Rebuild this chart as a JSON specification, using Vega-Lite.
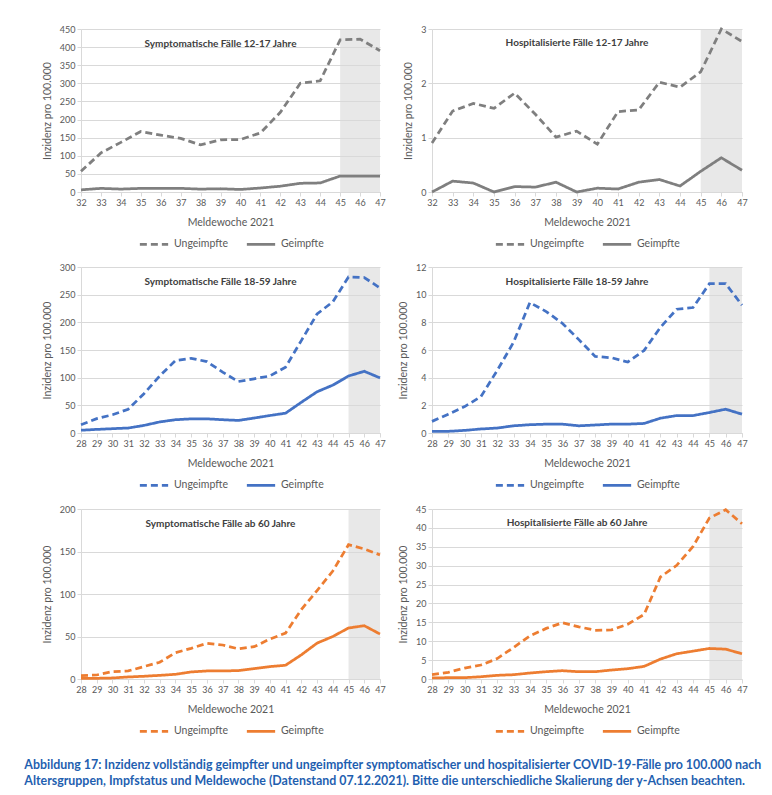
{
  "$schema": "https://vega.github.io/schema/vega-lite/v6.json",
  "padding": {"left": 24, "top": 23, "right": 5, "bottom": 5},
  "background": "white",
  "datasets": {
    "d": [
      {"panel":"S12","woche":32,"Ungeimpfte":57,"Geimpfte":6},
      {"panel":"S12","woche":33,"Ungeimpfte":108,"Geimpfte":10},
      {"panel":"S12","woche":34,"Ungeimpfte":137,"Geimpfte":8},
      {"panel":"S12","woche":35,"Ungeimpfte":167,"Geimpfte":10},
      {"panel":"S12","woche":36,"Ungeimpfte":157,"Geimpfte":10},
      {"panel":"S12","woche":37,"Ungeimpfte":148,"Geimpfte":10},
      {"panel":"S12","woche":38,"Ungeimpfte":130,"Geimpfte":8},
      {"panel":"S12","woche":39,"Ungeimpfte":144,"Geimpfte":9},
      {"panel":"S12","woche":40,"Ungeimpfte":145,"Geimpfte":7},
      {"panel":"S12","woche":41,"Ungeimpfte":163,"Geimpfte":11},
      {"panel":"S12","woche":42,"Ungeimpfte":220,"Geimpfte":16},
      {"panel":"S12","woche":43,"Ungeimpfte":300,"Geimpfte":24},
      {"panel":"S12","woche":44,"Ungeimpfte":307,"Geimpfte":25},
      {"panel":"S12","woche":45,"Ungeimpfte":420,"Geimpfte":44},
      {"panel":"S12","woche":46,"Ungeimpfte":422,"Geimpfte":44},
      {"panel":"S12","woche":47,"Ungeimpfte":390,"Geimpfte":44},
      {"panel":"H12","woche":32,"Ungeimpfte":0.9,"Geimpfte":0},
      {"panel":"H12","woche":33,"Ungeimpfte":1.49,"Geimpfte":0.2},
      {"panel":"H12","woche":34,"Ungeimpfte":1.63,"Geimpfte":0.165},
      {"panel":"H12","woche":35,"Ungeimpfte":1.54,"Geimpfte":0},
      {"panel":"H12","woche":36,"Ungeimpfte":1.82,"Geimpfte":0.1},
      {"panel":"H12","woche":37,"Ungeimpfte":1.43,"Geimpfte":0.09},
      {"panel":"H12","woche":38,"Ungeimpfte":1.01,"Geimpfte":0.18},
      {"panel":"H12","woche":39,"Ungeimpfte":1.12,"Geimpfte":0},
      {"panel":"H12","woche":40,"Ungeimpfte":0.88,"Geimpfte":0.07},
      {"panel":"H12","woche":41,"Ungeimpfte":1.48,"Geimpfte":0.055},
      {"panel":"H12","woche":42,"Ungeimpfte":1.51,"Geimpfte":0.18},
      {"panel":"H12","woche":43,"Ungeimpfte":2.02,"Geimpfte":0.23},
      {"panel":"H12","woche":44,"Ungeimpfte":1.93,"Geimpfte":0.11},
      {"panel":"H12","woche":45,"Ungeimpfte":2.21,"Geimpfte":0.38},
      {"panel":"H12","woche":46,"Ungeimpfte":3.0,"Geimpfte":0.63},
      {"panel":"H12","woche":47,"Ungeimpfte":2.77,"Geimpfte":0.4},
      {"panel":"S18","woche":28,"Ungeimpfte":15,"Geimpfte":5},
      {"panel":"S18","woche":29,"Ungeimpfte":26,"Geimpfte":6.5},
      {"panel":"S18","woche":30,"Ungeimpfte":33,"Geimpfte":7.8},
      {"panel":"S18","woche":31,"Ungeimpfte":43,"Geimpfte":9},
      {"panel":"S18","woche":32,"Ungeimpfte":71,"Geimpfte":13.7},
      {"panel":"S18","woche":33,"Ungeimpfte":103,"Geimpfte":20},
      {"panel":"S18","woche":34,"Ungeimpfte":131,"Geimpfte":24},
      {"panel":"S18","woche":35,"Ungeimpfte":135,"Geimpfte":25.6},
      {"panel":"S18","woche":36,"Ungeimpfte":129,"Geimpfte":25.6},
      {"panel":"S18","woche":37,"Ungeimpfte":110,"Geimpfte":24},
      {"panel":"S18","woche":38,"Ungeimpfte":93,"Geimpfte":22.7},
      {"panel":"S18","woche":39,"Ungeimpfte":98,"Geimpfte":27},
      {"panel":"S18","woche":40,"Ungeimpfte":103,"Geimpfte":31.6},
      {"panel":"S18","woche":41,"Ungeimpfte":119,"Geimpfte":35.8},
      {"panel":"S18","woche":42,"Ungeimpfte":167,"Geimpfte":55.5},
      {"panel":"S18","woche":43,"Ungeimpfte":215,"Geimpfte":74.5},
      {"panel":"S18","woche":44,"Ungeimpfte":237,"Geimpfte":86.5},
      {"panel":"S18","woche":45,"Ungeimpfte":282,"Geimpfte":103},
      {"panel":"S18","woche":46,"Ungeimpfte":281,"Geimpfte":111.5},
      {"panel":"S18","woche":47,"Ungeimpfte":262,"Geimpfte":99.6},
      {"panel":"H18","woche":28,"Ungeimpfte":0.84,"Geimpfte":0.12},
      {"panel":"H18","woche":29,"Ungeimpfte":1.36,"Geimpfte":0.12},
      {"panel":"H18","woche":30,"Ungeimpfte":1.91,"Geimpfte":0.19},
      {"panel":"H18","woche":31,"Ungeimpfte":2.63,"Geimpfte":0.29},
      {"panel":"H18","woche":32,"Ungeimpfte":4.53,"Geimpfte":0.36},
      {"panel":"H18","woche":33,"Ungeimpfte":6.56,"Geimpfte":0.52},
      {"panel":"H18","woche":34,"Ungeimpfte":9.43,"Geimpfte":0.6},
      {"panel":"H18","woche":35,"Ungeimpfte":8.78,"Geimpfte":0.64},
      {"panel":"H18","woche":36,"Ungeimpfte":7.92,"Geimpfte":0.64},
      {"panel":"H18","woche":37,"Ungeimpfte":6.75,"Geimpfte":0.52},
      {"panel":"H18","woche":38,"Ungeimpfte":5.54,"Geimpfte":0.58},
      {"panel":"H18","woche":39,"Ungeimpfte":5.44,"Geimpfte":0.64},
      {"panel":"H18","woche":40,"Ungeimpfte":5.13,"Geimpfte":0.64},
      {"panel":"H18","woche":41,"Ungeimpfte":5.97,"Geimpfte":0.69},
      {"panel":"H18","woche":42,"Ungeimpfte":7.64,"Geimpfte":1.07},
      {"panel":"H18","woche":43,"Ungeimpfte":8.95,"Geimpfte":1.26},
      {"panel":"H18","woche":44,"Ungeimpfte":9.07,"Geimpfte":1.26},
      {"panel":"H18","woche":45,"Ungeimpfte":10.79,"Geimpfte":1.48},
      {"panel":"H18","woche":46,"Ungeimpfte":10.79,"Geimpfte":1.72},
      {"panel":"H18","woche":47,"Ungeimpfte":9.24,"Geimpfte":1.36},
      {"panel":"S60","woche":28,"Ungeimpfte":4,"Geimpfte":0.8},
      {"panel":"S60","woche":29,"Ungeimpfte":4.7,"Geimpfte":0.8},
      {"panel":"S60","woche":30,"Ungeimpfte":8.7,"Geimpfte":1.2},
      {"panel":"S60","woche":31,"Ungeimpfte":9.5,"Geimpfte":2.4},
      {"panel":"S60","woche":32,"Ungeimpfte":14.6,"Geimpfte":3.2},
      {"panel":"S60","woche":33,"Ungeimpfte":19.7,"Geimpfte":4.3},
      {"panel":"S60","woche":34,"Ungeimpfte":31,"Geimpfte":5.5},
      {"panel":"S60","woche":35,"Ungeimpfte":36,"Geimpfte":8.3},
      {"panel":"S60","woche":36,"Ungeimpfte":42,"Geimpfte":9.5},
      {"panel":"S60","woche":37,"Ungeimpfte":40,"Geimpfte":9.5},
      {"panel":"S60","woche":38,"Ungeimpfte":35.5,"Geimpfte":9.9},
      {"panel":"S60","woche":39,"Ungeimpfte":38,"Geimpfte":12.2},
      {"panel":"S60","woche":40,"Ungeimpfte":47,"Geimpfte":14.6},
      {"panel":"S60","woche":41,"Ungeimpfte":54,"Geimpfte":16.2},
      {"panel":"S60","woche":42,"Ungeimpfte":81.7,"Geimpfte":28.4},
      {"panel":"S60","woche":43,"Ungeimpfte":104,"Geimpfte":42.2},
      {"panel":"S60","woche":44,"Ungeimpfte":127,"Geimpfte":50},
      {"panel":"S60","woche":45,"Ungeimpfte":158,"Geimpfte":60},
      {"panel":"S60","woche":46,"Ungeimpfte":153,"Geimpfte":62.7},
      {"panel":"S60","woche":47,"Ungeimpfte":146,"Geimpfte":52.9},
      {"panel":"H60","woche":28,"Ungeimpfte":1.14,"Geimpfte":0.26},
      {"panel":"H60","woche":29,"Ungeimpfte":1.76,"Geimpfte":0.35},
      {"panel":"H60","woche":30,"Ungeimpfte":2.9,"Geimpfte":0.35},
      {"panel":"H60","woche":31,"Ungeimpfte":3.7,"Geimpfte":0.6},
      {"panel":"H60","woche":32,"Ungeimpfte":5.4,"Geimpfte":0.97},
      {"panel":"H60","woche":33,"Ungeimpfte":8.35,"Geimpfte":1.14},
      {"panel":"H60","woche":34,"Ungeimpfte":11.4,"Geimpfte":1.58},
      {"panel":"H60","woche":35,"Ungeimpfte":13.4,"Geimpfte":1.93},
      {"panel":"H60","woche":36,"Ungeimpfte":14.9,"Geimpfte":2.2},
      {"panel":"H60","woche":37,"Ungeimpfte":13.8,"Geimpfte":1.93},
      {"panel":"H60","woche":38,"Ungeimpfte":12.9,"Geimpfte":1.93},
      {"panel":"H60","woche":39,"Ungeimpfte":13,"Geimpfte":2.37},
      {"panel":"H60","woche":40,"Ungeimpfte":14.5,"Geimpfte":2.72},
      {"panel":"H60","woche":41,"Ungeimpfte":17.1,"Geimpfte":3.34},
      {"panel":"H60","woche":42,"Ungeimpfte":27,"Geimpfte":5.27},
      {"panel":"H60","woche":43,"Ungeimpfte":30.1,"Geimpfte":6.68},
      {"panel":"H60","woche":44,"Ungeimpfte":35.1,"Geimpfte":7.38},
      {"panel":"H60","woche":45,"Ungeimpfte":42.6,"Geimpfte":8.08},
      {"panel":"H60","woche":46,"Ungeimpfte":44.8,"Geimpfte":7.9},
      {"panel":"H60","woche":47,"Ungeimpfte":41.1,"Geimpfte":6.68}
    ]
  },
  "title": {
    "text": [
      "Abbildung 17: Inzidenz vollständig geimpfter und ungeimpfter symptomatischer und hospitalisierter COVID-19-Fälle pro 100.000 nach",
      "Altersgruppen, Impfstatus und Meldewoche (Datenstand 07.12.2021). Bitte die unterschiedliche Skalierung der y-Achsen beachten."
    ],
    "orient": "bottom",
    "anchor": "start",
    "font": "Lato",
    "fontSize": 12.4,
    "fontWeight": "bold",
    "color": "#1f5fb0",
    "lineHeight": 16,
    "offset": 22,
    "dx": -18
  },
  "columns": 2,
  "spacing": {"row": 13, "column": 12},
  "resolve": {
    "scale": {"x": "independent", "y": "independent", "color": "independent", "strokeDash": "independent"},
    "legend": {"color": "independent", "strokeDash": "independent"}
  },
  "concat": [
    {
      "width": 299, "height": 163,
      "title": {"text": "Symptomatische Fälle 12-17 Jahre", "offset": -24, "dx": -10},
      "layer": [
        {"data": {"values": [{}]}, "mark": {"type": "rect", "color": "#d9d9d9", "opacity": 0.6},
         "encoding": {
           "x": {"datum": 45, "type": "quantitative", "scale": {"domain": [32, 47], "nice": false, "zero": false}, "axis": {"values": [32,33,34,35,36,37,38,39,40,41,42,43,44,45,46,47], "title": "Meldewoche 2021"}},
           "x2": {"datum": 47}}},
        {"data": {"name": "d"},
         "transform": [{"filter": "datum.panel === 'S12'"}, {"fold": ["Ungeimpfte", "Geimpfte"], "as": ["status", "inzidenz"]}],
         "mark": {"type": "line", "strokeWidth": 2.75},
         "encoding": {
           "x": {"field": "woche", "type": "quantitative", "scale": {"domain": [32, 47], "nice": false, "zero": false}, "axis": {"values": [32,33,34,35,36,37,38,39,40,41,42,43,44,45,46,47], "title": "Meldewoche 2021"}},
           "y": {"field": "inzidenz", "type": "quantitative", "scale": {"domain": [0, 450], "nice": false}, "axis": {"values": [0,50,100,150,200,250,300,350,400,450], "title": "Inzidenz pro 100.000"}},
           "color": {"field": "status", "type": "nominal", "scale": {"domain": ["Ungeimpfte", "Geimpfte"], "range": ["#7f7f7f", "#7f7f7f"]}, "legend": {"title": null}},
           "strokeDash": {"field": "status", "type": "nominal", "scale": {"domain": ["Ungeimpfte", "Geimpfte"], "range": [[7, 4], [1, 0]]}, "legend": {"title": null}}
         }}
      ]
    },
    {
      "width": 310, "height": 163,
      "title": {"text": "Hospitalisierte Fälle 12-17 Jahre", "offset": -24, "dx": -10},
      "layer": [
        {"data": {"values": [{}]}, "mark": {"type": "rect", "color": "#d9d9d9", "opacity": 0.6},
         "encoding": {
           "x": {"datum": 45, "type": "quantitative", "scale": {"domain": [32, 47], "nice": false, "zero": false}, "axis": {"values": [32,33,34,35,36,37,38,39,40,41,42,43,44,45,46,47], "title": "Meldewoche 2021"}},
           "x2": {"datum": 47}}},
        {"data": {"name": "d"},
         "transform": [{"filter": "datum.panel === 'H12'"}, {"fold": ["Ungeimpfte", "Geimpfte"], "as": ["status", "inzidenz"]}],
         "mark": {"type": "line", "strokeWidth": 2.75},
         "encoding": {
           "x": {"field": "woche", "type": "quantitative", "scale": {"domain": [32, 47], "nice": false, "zero": false}, "axis": {"values": [32,33,34,35,36,37,38,39,40,41,42,43,44,45,46,47], "title": "Meldewoche 2021"}},
           "y": {"field": "inzidenz", "type": "quantitative", "scale": {"domain": [0, 3], "nice": false}, "axis": {"values": [0,1,2,3], "title": "Inzidenz pro 100.000"}},
           "color": {"field": "status", "type": "nominal", "scale": {"domain": ["Ungeimpfte", "Geimpfte"], "range": ["#7f7f7f", "#7f7f7f"]}, "legend": {"title": null}},
           "strokeDash": {"field": "status", "type": "nominal", "scale": {"domain": ["Ungeimpfte", "Geimpfte"], "range": [[7, 4], [1, 0]]}, "legend": {"title": null}}
         }}
      ]
    },
    {
      "width": 299, "height": 166,
      "title": {"text": "Symptomatische Fälle 18-59 Jahre", "offset": -24, "dx": -10},
      "layer": [
        {"data": {"values": [{}]}, "mark": {"type": "rect", "color": "#d9d9d9", "opacity": 0.6},
         "encoding": {
           "x": {"datum": 45, "type": "quantitative", "scale": {"domain": [28, 47], "nice": false, "zero": false}, "axis": {"values": [28,29,30,31,32,33,34,35,36,37,38,39,40,41,42,43,44,45,46,47], "title": "Meldewoche 2021"}},
           "x2": {"datum": 47}}},
        {"data": {"name": "d"},
         "transform": [{"filter": "datum.panel === 'S18'"}, {"fold": ["Ungeimpfte", "Geimpfte"], "as": ["status", "inzidenz"]}],
         "mark": {"type": "line", "strokeWidth": 2.75},
         "encoding": {
           "x": {"field": "woche", "type": "quantitative", "scale": {"domain": [28, 47], "nice": false, "zero": false}, "axis": {"values": [28,29,30,31,32,33,34,35,36,37,38,39,40,41,42,43,44,45,46,47], "title": "Meldewoche 2021"}},
           "y": {"field": "inzidenz", "type": "quantitative", "scale": {"domain": [0, 300], "nice": false}, "axis": {"values": [0,50,100,150,200,250,300], "title": "Inzidenz pro 100.000"}},
           "color": {"field": "status", "type": "nominal", "scale": {"domain": ["Ungeimpfte", "Geimpfte"], "range": ["#4472c4", "#4472c4"]}, "legend": {"title": null}},
           "strokeDash": {"field": "status", "type": "nominal", "scale": {"domain": ["Ungeimpfte", "Geimpfte"], "range": [[7, 4], [1, 0]]}, "legend": {"title": null}}
         }}
      ]
    },
    {
      "width": 310, "height": 166,
      "title": {"text": "Hospitalisierte Fälle 18-59 Jahre", "offset": -24, "dx": -10},
      "layer": [
        {"data": {"values": [{}]}, "mark": {"type": "rect", "color": "#d9d9d9", "opacity": 0.6},
         "encoding": {
           "x": {"datum": 45, "type": "quantitative", "scale": {"domain": [28, 47], "nice": false, "zero": false}, "axis": {"values": [28,29,30,31,32,33,34,35,36,37,38,39,40,41,42,43,44,45,46,47], "title": "Meldewoche 2021"}},
           "x2": {"datum": 47}}},
        {"data": {"name": "d"},
         "transform": [{"filter": "datum.panel === 'H18'"}, {"fold": ["Ungeimpfte", "Geimpfte"], "as": ["status", "inzidenz"]}],
         "mark": {"type": "line", "strokeWidth": 2.75},
         "encoding": {
           "x": {"field": "woche", "type": "quantitative", "scale": {"domain": [28, 47], "nice": false, "zero": false}, "axis": {"values": [28,29,30,31,32,33,34,35,36,37,38,39,40,41,42,43,44,45,46,47], "title": "Meldewoche 2021"}},
           "y": {"field": "inzidenz", "type": "quantitative", "scale": {"domain": [0, 12], "nice": false}, "axis": {"values": [0,2,4,6,8,10,12], "title": "Inzidenz pro 100.000"}},
           "color": {"field": "status", "type": "nominal", "scale": {"domain": ["Ungeimpfte", "Geimpfte"], "range": ["#4472c4", "#4472c4"]}, "legend": {"title": null}},
           "strokeDash": {"field": "status", "type": "nominal", "scale": {"domain": ["Ungeimpfte", "Geimpfte"], "range": [[7, 4], [1, 0]]}, "legend": {"title": null}}
         }}
      ]
    },
    {
      "width": 299, "height": 170,
      "title": {"text": "Symptomatische Fälle ab 60 Jahre", "offset": -24, "dx": -10},
      "layer": [
        {"data": {"values": [{}]}, "mark": {"type": "rect", "color": "#d9d9d9", "opacity": 0.6},
         "encoding": {
           "x": {"datum": 45, "type": "quantitative", "scale": {"domain": [28, 47], "nice": false, "zero": false}, "axis": {"values": [28,29,30,31,32,33,34,35,36,37,38,39,40,41,42,43,44,45,46,47], "title": "Meldewoche 2021"}},
           "x2": {"datum": 47}}},
        {"data": {"name": "d"},
         "transform": [{"filter": "datum.panel === 'S60'"}, {"fold": ["Ungeimpfte", "Geimpfte"], "as": ["status", "inzidenz"]}],
         "mark": {"type": "line", "strokeWidth": 2.75},
         "encoding": {
           "x": {"field": "woche", "type": "quantitative", "scale": {"domain": [28, 47], "nice": false, "zero": false}, "axis": {"values": [28,29,30,31,32,33,34,35,36,37,38,39,40,41,42,43,44,45,46,47], "title": "Meldewoche 2021"}},
           "y": {"field": "inzidenz", "type": "quantitative", "scale": {"domain": [0, 200], "nice": false}, "axis": {"values": [0,50,100,150,200], "title": "Inzidenz pro 100.000"}},
           "color": {"field": "status", "type": "nominal", "scale": {"domain": ["Ungeimpfte", "Geimpfte"], "range": ["#ed7d31", "#ed7d31"]}, "legend": {"title": null}},
           "strokeDash": {"field": "status", "type": "nominal", "scale": {"domain": ["Ungeimpfte", "Geimpfte"], "range": [[7, 4], [1, 0]]}, "legend": {"title": null}}
         }}
      ]
    },
    {
      "width": 310, "height": 170,
      "title": {"text": "Hospitalisierte Fälle ab 60 Jahre", "offset": -24, "dx": -10},
      "layer": [
        {"data": {"values": [{}]}, "mark": {"type": "rect", "color": "#d9d9d9", "opacity": 0.6},
         "encoding": {
           "x": {"datum": 45, "type": "quantitative", "scale": {"domain": [28, 47], "nice": false, "zero": false}, "axis": {"values": [28,29,30,31,32,33,34,35,36,37,38,39,40,41,42,43,44,45,46,47], "title": "Meldewoche 2021"}},
           "x2": {"datum": 47}}},
        {"data": {"name": "d"},
         "transform": [{"filter": "datum.panel === 'H60'"}, {"fold": ["Ungeimpfte", "Geimpfte"], "as": ["status", "inzidenz"]}],
         "mark": {"type": "line", "strokeWidth": 2.75},
         "encoding": {
           "x": {"field": "woche", "type": "quantitative", "scale": {"domain": [28, 47], "nice": false, "zero": false}, "axis": {"values": [28,29,30,31,32,33,34,35,36,37,38,39,40,41,42,43,44,45,46,47], "title": "Meldewoche 2021"}},
           "y": {"field": "inzidenz", "type": "quantitative", "scale": {"domain": [0, 45], "nice": false}, "axis": {"values": [0,5,10,15,20,25,30,35,40,45], "title": "Inzidenz pro 100.000"}},
           "color": {"field": "status", "type": "nominal", "scale": {"domain": ["Ungeimpfte", "Geimpfte"], "range": ["#ed7d31", "#ed7d31"]}, "legend": {"title": null}},
           "strokeDash": {"field": "status", "type": "nominal", "scale": {"domain": ["Ungeimpfte", "Geimpfte"], "range": [[7, 4], [1, 0]]}, "legend": {"title": null}}
         }}
      ]
    }
  ],
  "config": {
    "font": "Lato",
    "view": {"stroke": null},
    "axis": {
      "labelFont": "Lato", "labelFontSize": 9, "labelColor": "#595959", "labelOverlap": false,
      "titleFont": "Lato", "titleFontSize": 10.5, "titleColor": "#595959", "titleFontWeight": "normal",
      "gridColor": "#d9d9d9", "domainColor": "#d9d9d9", "tickColor": "#d9d9d9", "tickSize": 4
    },
    "axisX": {"labelAngle": 0, "grid": false, "titlePadding": 10, "labelFlush": false},
    "axisY": {"titlePadding": 7},
    "legend": {
      "orient": "bottom", "direction": "horizontal", "symbolType": "stroke", "symbolSize": 800,
      "symbolStrokeWidth": 2.75, "labelFont": "Lato", "labelFontSize": 10.5, "labelColor": "#595959",
      "labelOffset": 4, "columnPadding": 12, "padding": 0, "offset": 0,
      "layout": {"bottom": {"anchor": "middle"}}
    },
    "title": {"font": "Lato", "fontSize": 10, "fontWeight": "bold", "color": "#404040", "anchor": "middle"}
  }
}
